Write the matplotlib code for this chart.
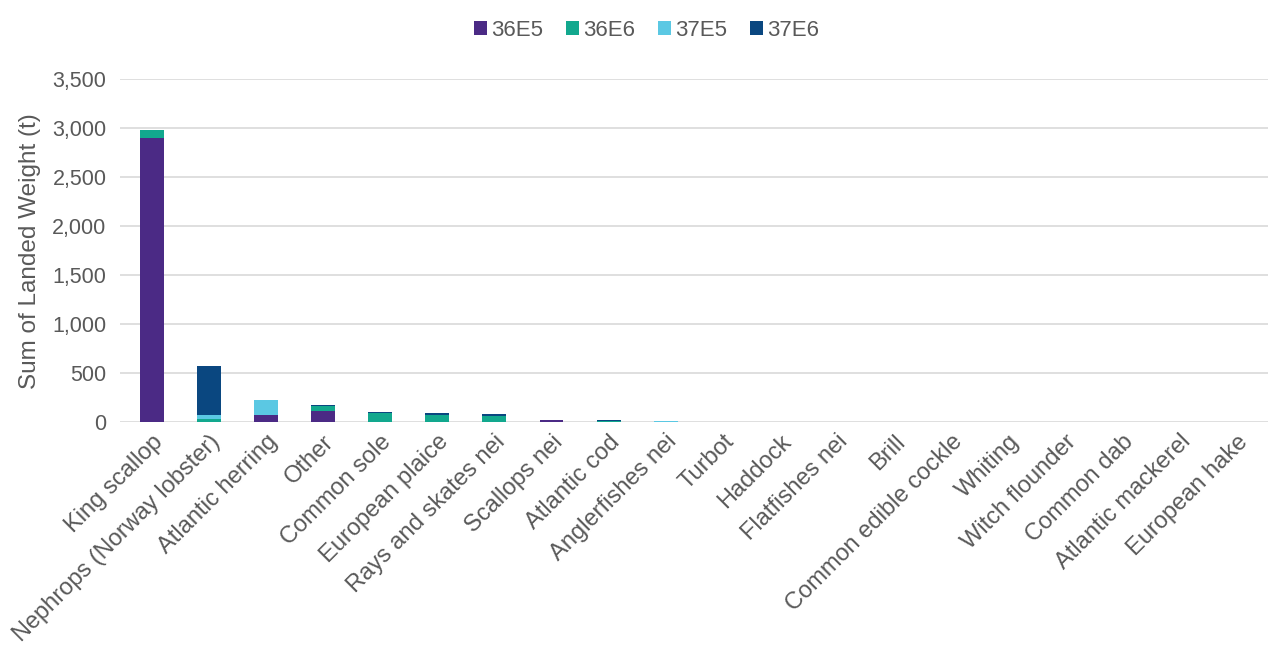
import matplotlib
matplotlib.use("Agg")
import matplotlib.pyplot as plt
import numpy as np

plt.rcParams["font.family"] = ["Liberation Sans", "DejaVu Sans"]

species = ["King scallop", "Nephrops (Norway lobster)", "Atlantic herring", "Other",
           "Common sole", "European plaice", "Rays and skates nei", "Scallops nei",
           "Atlantic cod", "Anglerfishes nei", "Turbot", "Haddock", "Flatfishes nei",
           "Brill", "Common edible cockle", "Whiting", "Witch flounder", "Common dab",
           "Atlantic mackerel", "European hake"]

# landed weight (t) by ICES rectangle
r36E5 = [2900, 5, 75, 120, 5, 3, 3, 22, 3, 2, 2, 1, 2, 2, 0, 1, 0, 1, 0, 0]
r36E6 = [75, 30, 0, 45, 90, 72, 62, 0, 8, 5, 3, 2, 2, 2, 0, 1, 1, 1, 0, 0]
r37E5 = [0, 40, 150, 0, 0, 0, 0, 0, 2, 6, 2, 1, 1, 1, 0, 1, 0, 0, 0, 0]
r37E6 = [0, 500, 0, 15, 12, 18, 25, 0, 10, 5, 2, 2, 2, 1, 0, 1, 1, 1, 1, 1]

series = ["36E5", "36E6", "37E5", "37E6"]
colors = ["#4B2A85", "#12A88E", "#5BC8E3", "#0A4780"]

fig = plt.figure(figsize=(12.68, 6.58), dpi=100)
ax = fig.add_axes([0.095, 0.358, 0.905, 0.522])

x = np.arange(len(species))
bottom = np.zeros(len(species))
for name, vals, c in zip(series, [r36E5, r36E6, r37E5, r37E6], colors):
    vals = np.array(vals, dtype=float)
    ax.bar(x, vals, 0.42, bottom=bottom, color=c, label=name, zorder=3)
    bottom += vals

ax.set_ylim(0, 3500)
ax.set_xlim(-0.55, len(species) - 0.45)
ax.set_yticks(np.arange(0, 3501, 500))
ax.set_yticklabels([f"{v:,}" for v in range(0, 3501, 500)])
ax.yaxis.grid(True, color="#d9d9d9", linewidth=1.2, zorder=0)
for s in ["top", "right", "left", "bottom"]:
    ax.spines[s].set_visible(False)
ax.tick_params(axis="both", length=0, labelsize=15.5, colors="#595959")
ax.tick_params(axis="x", labelsize=17, pad=6)
ax.tick_params(axis="y", pad=10)
ax.set_xticks(x)
ax.set_xticklabels(species, rotation=45, ha="right", rotation_mode="anchor")
ax.set_ylabel("Sum of Landed Weight (t)", fontsize=17.5, color="#595959", labelpad=8)

fig.legend(loc="upper center", bbox_to_anchor=(0.51, 1.0), ncol=4, frameon=False,
           fontsize=16, handlelength=0.6, handleheight=0.6, handletextpad=0.2,
           columnspacing=1.0, labelcolor="#595959")

fig.savefig("out.png", dpi=100)
